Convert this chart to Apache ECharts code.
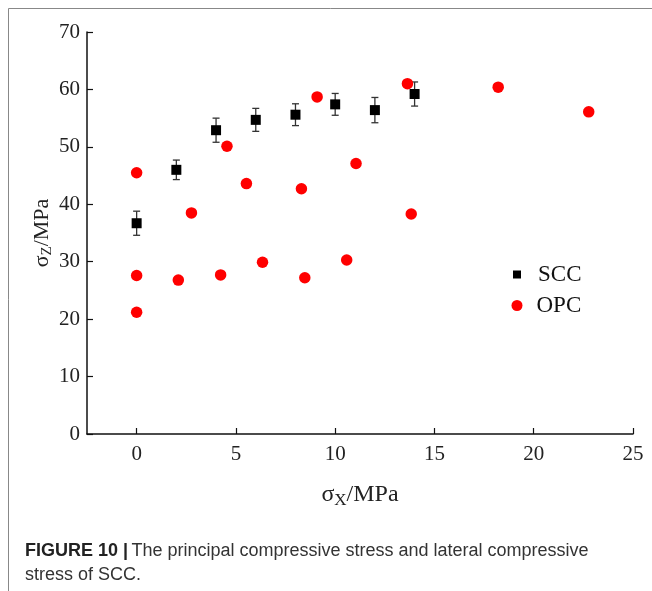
<!DOCTYPE html>
<html>
<head>
<meta charset="utf-8">
<script src="https://cdn.jsdelivr.net/npm/echarts@6/dist/echarts.min.js"></script>
<style>
html,body{margin:0;padding:0;background:#fff;}
#c{width:652px;height:591px;}
</style>
</head>
<body>
<div id="c"></div>
<script>
// SCC: mean with error bars
const sccX = [0, 2, 4, 6, 8, 10, 12, 14];
const sccY = [36.7, 46.0, 52.9, 54.7, 55.6, 57.4, 56.4, 59.2];
const sccErr = [2.1, 1.7, 2.1, 2.0, 1.9, 1.9, 2.2, 2.1];
// OPC scatter
const opcX = [0, 0, 0, 2.1, 2.76, 4.23, 4.55, 5.53, 6.34, 8.3, 8.47, 9.09, 10.58, 11.05, 13.64, 13.83, 18.21, 22.77];
const opcY = [45.5, 27.6, 21.2, 26.8, 38.5, 27.7, 50.1, 43.6, 29.9, 42.7, 27.2, 58.7, 30.3, 47.1, 61.0, 38.3, 60.4, 56.1];
const yTicks = [0, 10, 20, 30, 40, 50, 60, 70];
const xTicks = [0, 5, 10, 15, 20, 25];

const serif = '"Liberation Serif", "Times New Roman", serif';
const sans = '"Liberation Sans", Arial, sans-serif';
const sccData = sccX.map((x, i) => [x, sccY[i]]);
const errData = sccX.map((x, i) => [x, sccY[i] - sccErr[i], sccY[i] + sccErr[i]]);
const opcData = opcX.map((x, i) => [x, opcY[i]]);

const chart = echarts.init(document.getElementById('c'), null, {renderer: 'canvas'});
chart.setOption({
  animation: false,
  backgroundColor: '#fff',
  grid: {left: 87, right: 19, top: 32, bottom: 157, containLabel: false},
  xAxis: {
    type: 'value', min: -2.5, max: 25,
    splitLine: {show: false},
    axisLine: {onZero: false, lineStyle: {color: '#111', width: 1.5}},
    axisTick: {inside: true, length: 6, lineStyle: {color: '#111', width: 1.2}},
    axisLabel: {
      color: '#222', fontFamily: serif, fontSize: 21, margin: 10,
      showMinLabel: false,
      formatter: v => xTicks.indexOf(v) >= 0 ? String(v) : ''
    },
    name: '{a|σ}{s|X}{a|/MPa}',
    nameLocation: 'middle', nameGap: 47, nameMoveOverlap: false,
    nameTextStyle: {
      rich: {
        a: {fontFamily: serif, fontSize: 24, color: '#222'},
        s: {fontFamily: serif, fontSize: 17, color: '#222', padding: [11, 0, 0, 0]}
      }
    }
  },
  yAxis: {
    type: 'value', min: 0, max: 70, interval: 10,
    splitLine: {show: false},
    axisLine: {onZero: false, lineStyle: {color: '#111', width: 1.5}},
    axisTick: {inside: true, length: 6, lineStyle: {color: '#111', width: 1.2}},
    axisLabel: {
      color: '#222', fontFamily: serif, fontSize: 21, margin: 7,
      formatter: v => yTicks.indexOf(v) >= 0 ? String(v) : ''
    },
    name: '{a|σ}{s|Z}{a|/MPa}',
    nameLocation: 'middle', nameGap: 32, nameRotate: 90, nameMoveOverlap: false,
    nameTextStyle: {
      rich: {
        a: {fontFamily: serif, fontSize: 22, color: '#222'},
        s: {fontFamily: serif, fontSize: 15, color: '#222', padding: [10, 0, 0, 0]}
      }
    }
  },
  legend: [
    {
      data: ['SCC'], orient: 'vertical', left: 508, top: 258,
      itemWidth: 8, itemHeight: 8,
      textStyle: {fontFamily: serif, fontSize: 23, color: '#111', padding: [0, 0, 0, 12]}
    },
    {
      data: ['OPC'], orient: 'vertical', left: 506.5, top: 289,
      itemWidth: 11, itemHeight: 11,
      textStyle: {fontFamily: serif, fontSize: 23, color: '#111', padding: [0, 0, 0, 9]}
    }
  ],
  graphic: [
    {type: 'line', shape: {x1: 8.5, y1: 8.5, x2: 652, y2: 8.5}, style: {stroke: '#888', lineWidth: 1}},
    {type: 'line', shape: {x1: 8.5, y1: 8.5, x2: 8.5, y2: 591}, style: {stroke: '#888', lineWidth: 1}},
    {
      type: 'text', left: 25, top: 539,
      style: {
        text: '{b|FIGURE 10 |} {n|The principal compressive stress and lateral compressive}\n{n|stress of SCC.}',
        lineHeight: 24,
        rich: {
          b: {fontFamily: sans, fontWeight: 'bold', fontSize: 18, fill: '#222', lineHeight: 24},
          n: {fontFamily: sans, fontSize: 18, fill: '#333', lineHeight: 24}
        }
      }
    }
  ],
  series: [
    {
      name: 'SCCerr', type: 'custom', data: errData, z: 2,
      encode: {x: 0, y: [1, 2]},
      renderItem: function (params, api) {
        const x = api.value(0);
        const lo = api.coord([x, api.value(1)]);
        const hi = api.coord([x, api.value(2)]);
        const w = 3.5;
        const st = {stroke: '#333', lineWidth: 1.3};
        return {
          type: 'group',
          children: [
            {type: 'line', shape: {x1: lo[0], y1: lo[1], x2: hi[0], y2: hi[1]}, style: st},
            {type: 'line', shape: {x1: lo[0] - w, y1: lo[1], x2: lo[0] + w, y2: lo[1]}, style: st},
            {type: 'line', shape: {x1: hi[0] - w, y1: hi[1], x2: hi[0] + w, y2: hi[1]}, style: st}
          ]
        };
      }
    },
    {
      name: 'SCC', type: 'scatter', data: sccData, symbol: 'rect', symbolSize: 10, z: 3,
      itemStyle: {color: '#000', opacity: 1}
    },
    {
      name: 'OPC', type: 'scatter', data: opcData, symbol: 'circle', symbolSize: 11.5, z: 3,
      itemStyle: {color: '#ff0000', opacity: 1}
    }
  ]
});
</script>
</body>
</html>
